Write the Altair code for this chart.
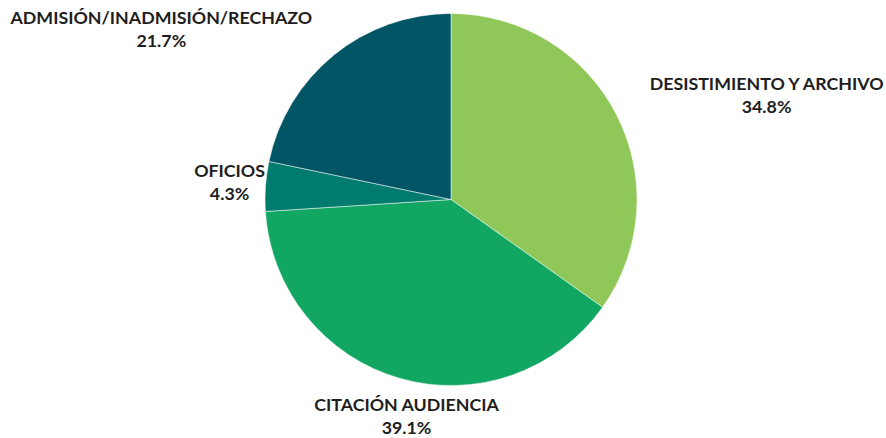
import altair as alt
import pandas as pd

categories = ["DESISTIMIENTO Y ARCHIVO", "CITACIÓN AUDIENCIA", "OFICIOS", "ADMISIÓN/INADMISIÓN/RECHAZO"]
percents = [34.8, 39.1, 4.3, 21.7]
colors = ["#8fc858", "#12a663", "#007b6e", "#015565"]

df = pd.DataFrame({
    "cat": categories,
    "pct": percents,
    "ord": list(range(len(categories))),
})
df["label"] = [[c, f"{p}%"] for c, p in zip(categories, percents)]

arcs = alt.Chart(df).mark_arc(outerRadius=186, stroke="white", strokeWidth=0.5).encode(
    theta=alt.Theta("pct:Q", stack=True),
    order=alt.Order("ord:Q"),
    color=alt.Color("cat:N", scale=alt.Scale(domain=categories, range=colors), legend=None),
)

text_base = (
    alt.Chart(df)
    .transform_window(cum="sum(pct)", sort=[alt.SortField("ord")], frame=[None, 0])
    .transform_joinaggregate(total="sum(pct)")
    .transform_calculate(mid="(datum.cum - datum.pct / 2) / datum.total")
)

# label placement per slice: (radius, dx, dy)
placements = {
    "DESISTIMIENTO Y ARCHIVO": (300, 49, 23),
    "CITACIÓN AUDIENCIA": (225, 17, -10),
    "OFICIOS": (222, 0, -12),
    "ADMISIÓN/INADMISIÓN/RECHAZO": (250, -132, 14),
}

layers = [arcs]
for c in categories:
    r, dx, dy = placements[c]
    layers.append(
        text_base.transform_filter(alt.datum.cat == c)
        .mark_text(radius=r, dx=dx, dy=dy, font="Lato", fontWeight="bold", fontSize=17.8,
                   lineHeight=23, color="#1e1e1e", align="center", baseline="middle")
        .encode(
            theta=alt.Theta("mid:Q", scale=alt.Scale(domain=[0, 1], range=[0, 6.283185307])),
            text="label",
        )
    )

chart = alt.layer(*layers).resolve_scale(theta="independent").properties(
    width=870, height=399,
    padding={"left": 16, "top": 0, "right": 0, "bottom": 39},
    autosize=alt.AutoSizeParams(type="none"),
).configure_view(stroke=None).configure(background="white")

chart.save("out.html", embed_options={"renderer": "svg", "actions": False})
